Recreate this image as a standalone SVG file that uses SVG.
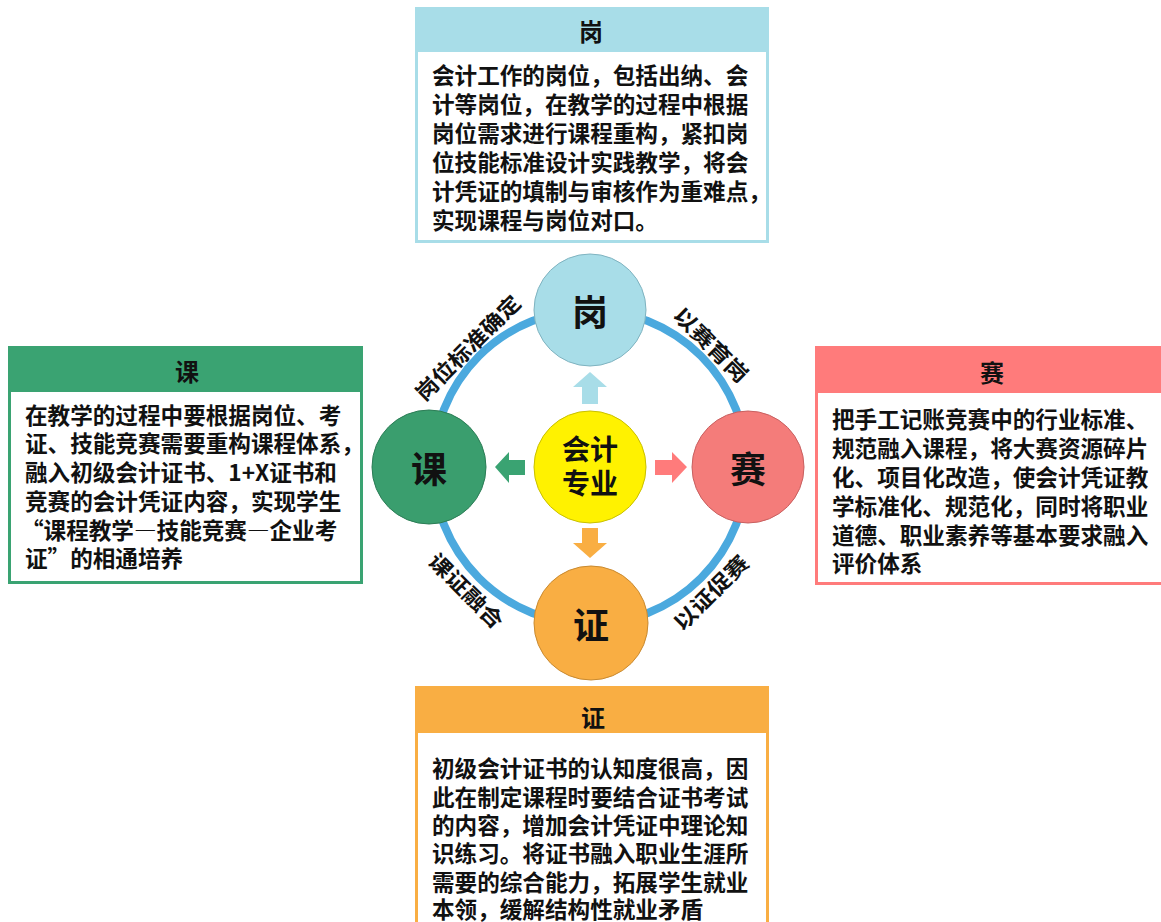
<svg xmlns="http://www.w3.org/2000/svg" width="1161" height="922" viewBox="0 0 1161 922">
<style>
text{font-family:"Noto Sans CJK SC","Noto Sans CJK JP",sans-serif;font-weight:bold;fill:#111;}
.body{font-size:22.6px;}
.hd{font-size:24px;text-anchor:middle;}
.big{font-size:36px;text-anchor:middle;dominant-baseline:central;}
.ctr{font-size:28px;text-anchor:middle;}
.lbl{font-size:21px;text-anchor:middle;dominant-baseline:central;}
.box{fill:#fff;stroke-width:3;}
.fw{font-feature-settings:"fwid" 1;}
</style>
<rect width="1161" height="922" fill="#fff"/>
<g id="connectors">
<circle cx="590" cy="467" r="157" fill="none" stroke="#4BA9DE" stroke-width="8"/>
<polygon points="590,372 607,387 598,387 598,404 582,404 582,387 573,387" fill="#A8DDE8"/>
<polygon points="495,467 509,452 509,460 525,460 525,475 509,475 509,483" fill="#3AA372"/>
<polygon points="687,467 672,452 672,460 655,460 655,475 672,475 672,483" fill="#FF7B7B"/>
<polygon points="590,558 607,543 598,543 598,528 582,528 582,543 573,543" fill="#F9AE43"/>
<text class="lbl" transform="translate(467,347) rotate(-45)" textLength="138" lengthAdjust="spacingAndGlyphs">岗位标准确定</text>
<text class="lbl" transform="translate(712,344) rotate(45)" textLength="96" lengthAdjust="spacingAndGlyphs">以赛育岗</text>
<text class="lbl" transform="translate(467,590) rotate(45)" textLength="96" lengthAdjust="spacingAndGlyphs">课证融合</text>
<text class="lbl" transform="translate(710,592) rotate(-45)" textLength="96" lengthAdjust="spacingAndGlyphs">以证促赛</text>
</g>
<g id="center">
<circle cx="590" cy="467" r="56" fill="#FFF200" stroke="#C9C000" stroke-width="1"/>
<text class="ctr" x="590" y="460">会计</text>
<text class="ctr" x="590" y="494">专业</text>
</g>
<g id="node-gang">
<circle cx="590" cy="310" r="56" fill="#A8DDE8" stroke="#7FB3C0" stroke-width="1"/>
<text class="big" x="590" y="310">岗</text>
</g>
<g id="node-ke">
<circle cx="429" cy="467" r="57" fill="#3A9E6E" stroke="#2C7D56" stroke-width="1"/>
<text class="big" x="429" y="467">课</text>
</g>
<g id="node-sai">
<circle cx="748" cy="467" r="56" fill="#F47C7A" stroke="#C86060" stroke-width="1"/>
<text class="big" x="748" y="467">赛</text>
</g>
<g id="node-zheng">
<circle cx="591" cy="623" r="57" fill="#F9AE43" stroke="#C98A30" stroke-width="1"/>
<text class="big" x="591" y="623">证</text>
</g>
<g id="box-gang">
<rect class="box" x="416.5" y="8.5" width="351" height="233" stroke="#A8DDE8"/>
<rect x="416" y="8" width="352" height="44" fill="#A8DDE8"/>
<text class="hd" x="591" y="41">岗</text>
<text class="body" x="432" y="84">会计工作的岗位，包括出纳、会</text>
<text class="body" x="432" y="113">计等岗位，在教学的过程中根据</text>
<text class="body" x="432" y="142">岗位需求进行课程重构，紧扣岗</text>
<text class="body" x="432" y="171">位技能标准设计实践教学，将会</text>
<text class="body" x="432" y="200">计凭证的填制与审核作为重难点，</text>
<text class="body" x="432" y="229">实现课程与岗位对口。</text>
</g>
<g id="box-ke">
<rect class="box" x="9.5" y="347.5" width="352" height="235" stroke="#3AA372"/>
<rect x="9" y="347" width="353" height="45" fill="#3AA372"/>
<text class="hd" x="187" y="381">课</text>
<text class="body" x="25" y="424">在教学的过程中要根据岗位、考</text>
<text class="body" x="25" y="452">证、技能竞赛需要重构课程体系，</text>
<text class="body" x="25" y="481">融入初级会计证书、1+X证书和</text>
<text class="body" x="25" y="510">竞赛的会计凭证内容，实现学生</text>
<text class="body fw" x="21" y="539">“课程教学—技能竞赛—企业考</text>
<text class="body" x="25" y="567">证”的相通培养</text>
</g>
<g id="box-sai">
<rect class="box" x="816.5" y="347.5" width="360" height="236" stroke="#FF7B7B"/>
<rect x="816" y="347" width="350" height="46" fill="#FF7B7B"/>
<text class="hd" x="992" y="382">赛</text>
<text class="body" x="832" y="428">把手工记账竞赛中的行业标准、</text>
<text class="body" x="832" y="457">规范融入课程，将大赛资源碎片</text>
<text class="body" x="832" y="486">化、项目化改造，使会计凭证教</text>
<text class="body" x="832" y="515">学标准化、规范化，同时将职业</text>
<text class="body" x="832" y="544">道德、职业素养等基本要求融入</text>
<text class="body" x="832" y="572">评价体系</text>
</g>
<g id="box-zheng">
<rect class="box" x="416.5" y="687.5" width="351" height="250" stroke="#F9AE43"/>
<rect x="416" y="687" width="352" height="46" fill="#F9AE43"/>
<text class="hd" x="593" y="727">证</text>
<text class="body" x="432" y="777">初级会计证书的认知度很高，因</text>
<text class="body" x="432" y="806">此在制定课程时要结合证书考试</text>
<text class="body" x="432" y="834">的内容，增加会计凭证中理论知</text>
<text class="body" x="432" y="862">识练习。将证书融入职业生涯所</text>
<text class="body" x="432" y="891">需要的综合能力，拓展学生就业</text>
<text class="body" x="432" y="918">本领，缓解结构性就业矛盾</text>
</g>
</svg>
